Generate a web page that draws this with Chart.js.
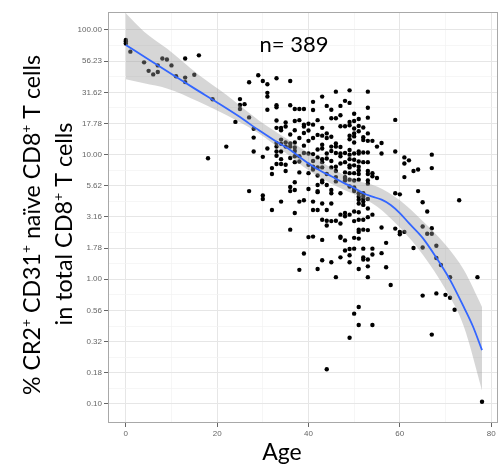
<!DOCTYPE html>
<html>
<head>
<meta charset="utf-8">
<script src="https://cdn.jsdelivr.net/npm/chart.js@4.4.0/dist/chart.umd.min.js"></script>
<style>
html, body { margin: 0; padding: 0; background: #fff; }
#wrap { width: 504px; height: 472px; }
</style>
</head>
<body>
<div id="wrap"><canvas id="chart"></canvas></div>
<script>
// donor ages, and the % values measured at each age
var ages = [0, 1, 4, 5, 6, 7, 8, 9, 10, 11, 13, 15, 16, 18, 19, 22, 24, 25, 26, 27, 28, 29, 30, 31, 32,
  33, 34, 35, 36, 37, 38, 39, 40, 41, 42, 43, 44, 45, 46, 47, 48, 49, 50, 51, 52, 53, 54, 55, 56, 57,
  58, 59, 60, 61, 62, 63, 64, 65, 66, 67, 68, 69, 70, 71, 72, 73, 77, 78];
var pctByAge = [
  [83, 81, 78], [67], [55], [47], [44], [46, 52], [59], [58], [52], [42.5], [41.5, 38.2, 59], [43.7],
  [62.6], [9.35], [27.8], [11.6], [18.3], [27.9, 25.0, 23.2], [25.4], [38.1, 19.9, 5.1], [16.1, 13.7, 10.6],
  [43.3], [39, 9.6, 4.7, 4.4], [36.7, 31.3, 29.2, 22.9, 11.2], [7.8, 7.0, 3.6],
  [41, 24.9, 24.0, 18.8, 16.4, 12.4, 11.6, 10.6, 9.8, 8.4],
  [16.4, 15.7, 13.2, 12.2, 10.6, 9.2, 8.4, 4.2],
  [18.1, 16.8, 12.5, 11.6, 8.3, 7.4],
  [39, 24.9, 14.5, 12.3, 11.6, 9.4, 5.5, 5.1, 2.5],
  [23.2, 18.6, 15.7, 12.5, 11.4, 10.7, 9.7, 8.7, 6.0, 5.2, 3.4],
  [23.2, 18.9, 13.6, 9.7, 8.8, 7.2, 4.2, 1.19],
  [23.2, 17.4, 16.8, 14.9, 11.8, 10.3, 4.3, 1.61],
  [17.7, 15.6, 12.9, 10.2, 8.3, 7.1, 5.3, 2.18],
  [26.5, 22.8, 17.4, 13.6, 10.1, 8.9, 8.0, 7.6, 4.2, 3.6, 2.2],
  [18.9, 14.4, 11.0, 9.5, 7.9, 6.8, 5.7, 5.1, 5.0, 3.6, 1.21],
  [29.2, 16.4, 14.2, 12.0, 11.2, 9.2, 8.7, 7.9, 6.2, 6.0, 4.05, 3.0, 2.07, 1.42],
  [24.6, 14.8, 13.6, 10.2, 9.3, 7.0, 5.7, 3.6, 2.95, 2.7, 0.19],
  [22.9, 19.6, 13.9, 11.6, 10.7, 8.9, 7.9, 5.2, 4.9, 4.05, 2.93, 1.37],
  [32, 19.6, 12.3, 11.6, 10.3, 8.0, 7.4, 6.6, 6.1, 2.95, 1.04],
  [24.6, 20.7, 16.9, 11.5, 10.2, 9.7, 8.5, 4.9, 3.3, 2.8, 2.2, 2.15, 1.5],
  [27, 16.9, 10.3, 8.7, 7.2, 6.6, 6.5, 6.2, 3.4, 3.2, 2.05, 1.7],
  [32.8, 26, 18.3, 17.2, 14.2, 13.3, 10.9, 10.0, 9.2, 8.2, 7.9, 7.1, 6.3, 5.55, 3.3, 1.75, 1.56, 1.37, 0.34],
  [21.3, 18.6, 16.2, 14.8, 14.0, 12.5, 10.2, 9.1, 8.2, 7.1, 6.2, 5.45, 5.3, 5.1, 3.5, 2.93, 2.15, 1.76, 0.53],
  [19.3, 17.0, 15.4, 10.6, 10.2, 8.8, 8.0, 7.5, 7.0, 6.3, 4.9, 4.6, 4.35, 4.05, 3.45, 3.0, 2.5, 2.4, 2.12, 1.21, 0.6, 0.43],
  [16.5, 13.8, 13.1, 10.4, 8.7, 4.9, 4.65, 4.4, 4.2, 3.95, 3.0, 2.5, 1.76, 1.5, 1.44],
  [32, 23.8, 19.8, 14.8, 12.9, 10.4, 8.7, 7.4, 7.0, 6.2, 5.85, 4.4, 3.7, 3.15, 2.48, 1.44, 1.27, 1.04],
  [12.9, 7.1, 6.7, 3.3, 1.76, 1.58, 0.43],
  [11.6, 6.5], [12.4, 10.2, 2.6, 1.62], [1.96, 1.25], [0.9], [19.0, 10.6, 4.9, 2.55],
  [4.8, 2.4, 2.3], [9.5, 8.5, 6.6, 2.4], [9.0], [7.4, 1.78], [7.6, 5.1], [4.15, 2.65, 1.8, 0.74],
  [3.5, 2.32], [10.0, 7.8, 2.57, 2.32, 0.36], [1.86, 1.48, 0.77], [1.3], [0.75], [1.04, 0.71],
  [0.57], [4.3], [1.04], [0.104]
];

// loess fit and its confidence band
var fitAge = [0, 5, 10, 15, 20, 25, 29, 33, 36, 40, 43, 45, 48, 50, 52, 54, 56, 58, 60, 62, 65, 68, 71, 74, 76, 78];
var fitPct = [75.8, 58, 44.4, 34, 26.2, 20, 15.8, 12.7, 10.9, 8.5, 7.3, 6.7, 5.85, 5.4, 4.9, 4.6, 4.35, 3.95, 3.4, 2.82, 2.15, 1.49, 0.99, 0.6, 0.42, 0.27];
var bandAge = [0, 4, 9, 16, 22, 29, 35, 40, 45, 50, 55, 60, 65, 70, 74, 78];
var bandHigh = [136, 97, 71, 43.6, 30.2, 19, 13.6, 10.3, 7.8, 6.3, 5.55, 4.3, 2.93, 1.89, 1.19, 0.6];
var bandLow = [40.2, 37.4, 34, 26.6, 20.8, 14.9, 10.3, 7.5, 5.85, 4.8, 3.84, 2.6, 1.58, 0.83, 0.42, 0.128];

var yTicks = [0.1, 0.1778, 0.3162, 0.5623, 1, 1.778, 3.162, 5.623, 10, 17.78, 31.62, 56.23, 100];
var yTickLabels = ['0.10', '0.18', '0.32', '0.56', '1.00', '1.78', '3.16', '5.62', '10.00', '17.78', '31.62', '56.23', '100.00'];
var xTicks = [0, 20, 40, 60, 80];

var points = [];
ages.forEach(function (a, i) {
  pctByAge[i].forEach(function (v) { points.push({x: a, y: v}); });
});
function pairs(xs, ys) { return xs.map(function (x, i) { return {x: x, y: ys[i]}; }); }

// minor grid lines sit half way between the major ones
var yMinor = [], xMinor = [];
for (var i = 0; i < yTicks.length - 1; i++) yMinor.push(Math.sqrt(yTicks[i] * yTicks[i + 1]));
for (var j = 0; j < xTicks.length - 1; j++) xMinor.push((xTicks[j] + xTicks[j + 1]) / 2);

function isMajor(list, c) { return c.tick && list.indexOf(c.tick.value) >= 0; }

var textPlugin = {
  id: 'texts',
  afterDraw: function (chart) {
    var ctx = chart.ctx, a = chart.chartArea;
    ctx.save();
    ctx.strokeStyle = '#a8a8a8';
    ctx.lineWidth = 1;
    ctx.strokeRect(a.left + 0.5, a.top + 0.5, a.right - a.left - 1, a.bottom - a.top - 1);

    function rich(parts, size) {
      var w = 0;
      parts.forEach(function (p) {
        ctx.font = (p[1] ? size * 0.6 : size) + 'px Lato';
        p.w = ctx.measureText(p[0]).width; w += p.w;
      });
      var x = -w / 2;
      ctx.textBaseline = 'alphabetic';
      ctx.textAlign = 'left';
      parts.forEach(function (p) {
        ctx.font = (p[1] ? size * 0.6 : size) + 'px Lato';
        ctx.fillText(p[0], x, p[1] ? -size * 0.38 : 0);
        x += p.w;
      });
    }
    ctx.fillStyle = '#000';
    ctx.save();
    ctx.translate(40, 225);
    ctx.rotate(-Math.PI / 2);
    rich([['% CR2'], ['+', 1], [' CD31'], ['+', 1], [' naïve CD8'], ['+', 1], [' T cells']], 23.2);
    ctx.restore();
    ctx.save();
    ctx.translate(72, 224);
    ctx.rotate(-Math.PI / 2);
    rich([['in total CD8'], ['+', 1], [' T cells']], 23.4);
    ctx.restore();

    ctx.save();
    ctx.translate(282, 460);
    rich([['Age']], 23);
    ctx.restore();
    ctx.save();
    ctx.translate(294, 52);
    rich([['n= 389']], 22);
    ctx.restore();
    ctx.restore();
  }
};

var ctx = document.getElementById('chart').getContext('2d');
var chart = new Chart(ctx, {
  type: 'scatter',
  data: {
    datasets: [
      {
        type: 'line',
        label: 'loess',
        data: pairs(fitAge, fitPct),
        borderColor: '#3366FF',
        borderWidth: 1.8,
        pointRadius: 0,
        cubicInterpolationMode: 'monotone',
        fill: false,
        order: 0
      },
      {
        type: 'line',
        label: 'upper',
        data: pairs(bandAge, bandHigh),
        borderWidth: 0,
        borderColor: 'rgba(0,0,0,0)',
        pointRadius: 0,
        cubicInterpolationMode: 'monotone',
        backgroundColor: 'rgba(153,153,153,0.4)',
        fill: '+1',
        order: 1
      },
      {
        type: 'line',
        label: 'lower',
        data: pairs(bandAge, bandLow),
        borderWidth: 0,
        borderColor: 'rgba(0,0,0,0)',
        pointRadius: 0,
        cubicInterpolationMode: 'monotone',
        fill: false,
        order: 1
      },
      {
        label: 'donors',
        data: points,
        pointRadius: 2.2,
        pointBackgroundColor: '#000',
        pointBorderWidth: 0,
        order: 2
      }
    ]
  },
  options: {
    responsive: true,
    maintainAspectRatio: false,
    animation: false,
    layout: { padding: { top: 12, right: 6, left: 0, bottom: 0 } },
    plugins: { legend: { display: false }, tooltip: { enabled: false } },
    scales: {
      x: {
        type: 'linear',
        min: -3.9,
        max: 81.5,
        afterBuildTicks: function (s) {
          s.ticks = xTicks.concat(xMinor).sort(function (a, b) { return a - b; }).map(function (v) { return {value: v}; });
        },
        afterFit: function (s) { s.height = 49; },
        border: { display: false },
        grid: {
          color: function (c) { return isMajor(xTicks, c) ? '#e6e6e6' : '#f2f2f2'; },
          lineWidth: function (c) { return isMajor(xTicks, c) ? 1 : 0.7; },
          tickLength: 4,
          tickColor: function (c) { return isMajor(xTicks, c) ? '#666' : 'rgba(0,0,0,0)'; }
        },
        ticks: {
          autoSkip: false,
          maxRotation: 0,
          padding: 2,
          color: '#666',
          font: { family: 'Liberation Sans', size: 8 },
          callback: function (v) { return xTicks.indexOf(v) >= 0 ? String(v) : ''; }
        }
      },
      y: {
        type: 'logarithmic',
        min: 0.0703,
        max: 139.4,
        afterBuildTicks: function (s) {
          s.ticks = yTicks.concat(yMinor).sort(function (a, b) { return a - b; }).map(function (v) { return {value: v}; });
        },
        afterFit: function (s) { s.width = 108; },
        border: { display: false },
        grid: {
          color: function (c) { return isMajor(yTicks, c) ? '#e6e6e6' : '#f2f2f2'; },
          lineWidth: function (c) { return isMajor(yTicks, c) ? 1 : 0.7; },
          tickLength: 4,
          tickColor: function (c) { return isMajor(yTicks, c) ? '#666' : 'rgba(0,0,0,0)'; }
        },
        ticks: {
          autoSkip: false,
          padding: 2,
          color: '#666',
          font: { family: 'Liberation Sans', size: 8 },
          callback: function (v) {
            var k = yTicks.indexOf(v);
            return k >= 0 ? yTickLabels[k] : '';
          }
        }
      }
    }
  },
  plugins: [textPlugin]
});
</script>
</body>
</html>
